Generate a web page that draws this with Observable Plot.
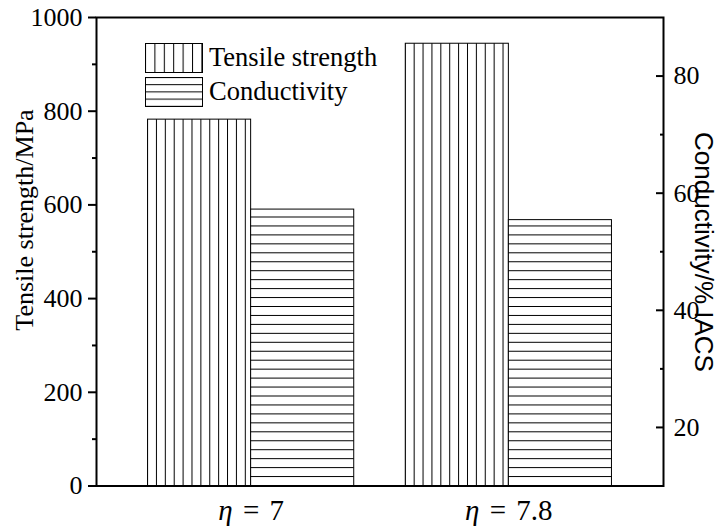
<!DOCTYPE html>
<html><head><meta charset="utf-8">
<script src="https://cdn.jsdelivr.net/npm/d3@7"></script>
<script src="https://cdn.jsdelivr.net/npm/@observablehq/plot@0.6"></script>
<style>body{margin:0;background:#fff}</style>
</head><body><div id="chart"></div>
<script>
const etaLabels = ["η = 7", "η = 7.8"];
const tensileStrength = [782, 944];
const conductivity = [57.2, 55.4];
const leftTicks = [0, 200, 400, 600, 800, 1000];
const leftMinorTicks = [100, 300, 500, 700, 900];
const rightTicks = [20, 40, 60, 80];
const rightMinorTicks = [30, 50, 70];
const leftDomain = [0, 1000];
const rightDomain = [10, 90];
const seriesNames = ["Tensile strength", "Conductivity"];
const leftTitle = "Tensile strength/MPa";
const rightTitle = "Conductivity/% IACS";

const toLeft = c => (c - rightDomain[0]) / (rightDomain[1] - rightDomain[0]) * (leftDomain[1] - leftDomain[0]) + leftDomain[0];
const fromLeft = v => (v - leftDomain[0]) / (leftDomain[1] - leftDomain[0]) * (rightDomain[1] - rightDomain[0]) + rightDomain[0];

const W = 720, H = 529, mL = 96, mR = 57, mT = 17, mB = 43.5;
const serif = "'Liberation Serif','Times New Roman',serif";
const sans = "'Liberation Sans',Arial,sans-serif";
const tData = etaLabels.map((eta, i) => ({eta, value: tensileStrength[i]}));
const cData = etaLabels.map((eta, i) => ({eta, value: conductivity[i]}));
const pad = 0.2;
const step = (W - mL - mR) / (etaLabels.length - pad + 2 * pad);
const half = step * (1 - pad) / 2;

const plot = Plot.plot({
  width: W, height: H, marginLeft: mL, marginRight: mR, marginTop: mT, marginBottom: mB,
  style: {fontFamily: serif, fontSize: "26px", background: "#fff", color: "#000", overflow: "visible"},
  x: {domain: etaLabels, padding: pad, round: false, label: null},
  y: {domain: leftDomain, label: null},
  marks: [
    Plot.barY(tData, {x: "eta", y: "value", fill: "url(#hatchV)", stroke: "#000", strokeWidth: 1, insetRight: half}),
    Plot.barY(cData, {x: "eta", y: d => toLeft(d.value), fill: "url(#hatchH)", stroke: "#000", strokeWidth: 1, insetLeft: half}),
    Plot.frame({stroke: "#000", strokeWidth: 2}),
    Plot.axisY({ticks: leftTicks, tickSize: 8, tickPadding: 6, label: null, strokeWidth: 2, tickFormat: d => String(d)}),
    Plot.axisY({ticks: leftMinorTicks, tickSize: 4, label: null, fill: "none", strokeWidth: 2}),
    Plot.axisY({anchor: "right", ticks: rightTicks.map(toLeft), tickSize: 0, tickPadding: 10,
      tickFormat: v => String(Math.round(fromLeft(v))), label: null}),
    Plot.axisY({anchor: "right", ticks: rightTicks.map(toLeft), tickSize: 8, dx: -8, fill: "none", label: null, strokeWidth: 2}),
    Plot.axisY({anchor: "right", ticks: rightMinorTicks.map(toLeft), tickSize: 4, dx: -4, fill: "none", label: null, strokeWidth: 2}),
    Plot.axisX({tickSize: 0, tickPadding: 13, label: null})
  ]
});

document.getElementById("chart").appendChild(plot);

const svg = d3.select(plot);
svg.selectAll("text").style("font-family", serif);
svg.selectAll("[aria-label='y-axis tick label']").style("font-size", "26px");

const xs = plot.scale("x");
const ys = plot.scale("y");
const x0 = xs.apply(etaLabels[0]);
const x1 = xs.apply(etaLabels[1]);
const spV = (x1 - x0) / 29;
const yBase = ys.apply(0);
const spH = 8.95;

const defs = svg.insert("defs", ":first-child");
function pattern(id, x, y, w, h, vertical) {
  const p = defs.append("pattern").attr("id", id).attr("patternUnits", "userSpaceOnUse")
    .attr("x", x).attr("y", y).attr("width", w).attr("height", h);
  p.append("rect").attr("width", w).attr("height", h).attr("fill", "#fff");
  if (vertical) p.append("line").attr("x1", 0.5).attr("x2", 0.5).attr("y1", 0).attr("y2", h).attr("stroke", "#000").attr("stroke-width", 1);
  else p.append("line").attr("x1", 0).attr("x2", w).attr("y1", 0.5).attr("y2", 0.5).attr("stroke", "#000").attr("stroke-width", 1);
}
pattern("hatchV", x0 - 0.5, 0, spV, 10, true);
pattern("hatchH", 0, yBase - 0.5, 10, spH, false);
pattern("legV", 145.5 - 0.5, 0, 9.4, 10, true);
pattern("legH", 0, 77.5 - 0.5, 10, 7.2, false);

// legend
const lg = svg.append("g").attr("text-anchor", "start").attr("fill", "#000");
lg.append("rect").attr("x", 145.5).attr("y", 43.5).attr("width", 57).attr("height", 29)
  .attr("fill", "url(#legV)").attr("stroke", "#000");
lg.append("rect").attr("x", 145.5).attr("y", 77.5).attr("width", 57).attr("height", 29)
  .attr("fill", "url(#legH)").attr("stroke", "#000");
lg.append("text").attr("x", 209).attr("y", 66).attr("fill", "#000")
  .style("font-family", serif).style("font-size", "26.5px").text(seriesNames[0]);
lg.append("text").attr("x", 209).attr("y", 100).attr("fill", "#000")
  .style("font-family", serif).style("font-size", "26.5px").text(seriesNames[1]);

// axis titles
svg.append("text").attr("transform", "translate(33,220) rotate(-90)").attr("text-anchor", "middle")
  .attr("fill", "#000").style("font-family", serif).style("font-size", "26px").text(leftTitle);
svg.append("text").attr("transform", "translate(695,252) rotate(90)").attr("text-anchor", "middle")
  .attr("fill", "#000").style("font-family", sans).style("font-size", "26px").text(rightTitle);

// italic eta in x labels
svg.selectAll("[aria-label='x-axis tick label'] text").each(function() {
  const t = this.textContent;
  this.textContent = "";
  const s = d3.select(this).style("font-family", serif).style("font-size", "29px").style("word-spacing", "3px");
  s.append("tspan").attr("font-style", "italic").text(t.slice(0, 1));
  s.append("tspan").text(t.slice(1));
});
</script>
</body></html>
